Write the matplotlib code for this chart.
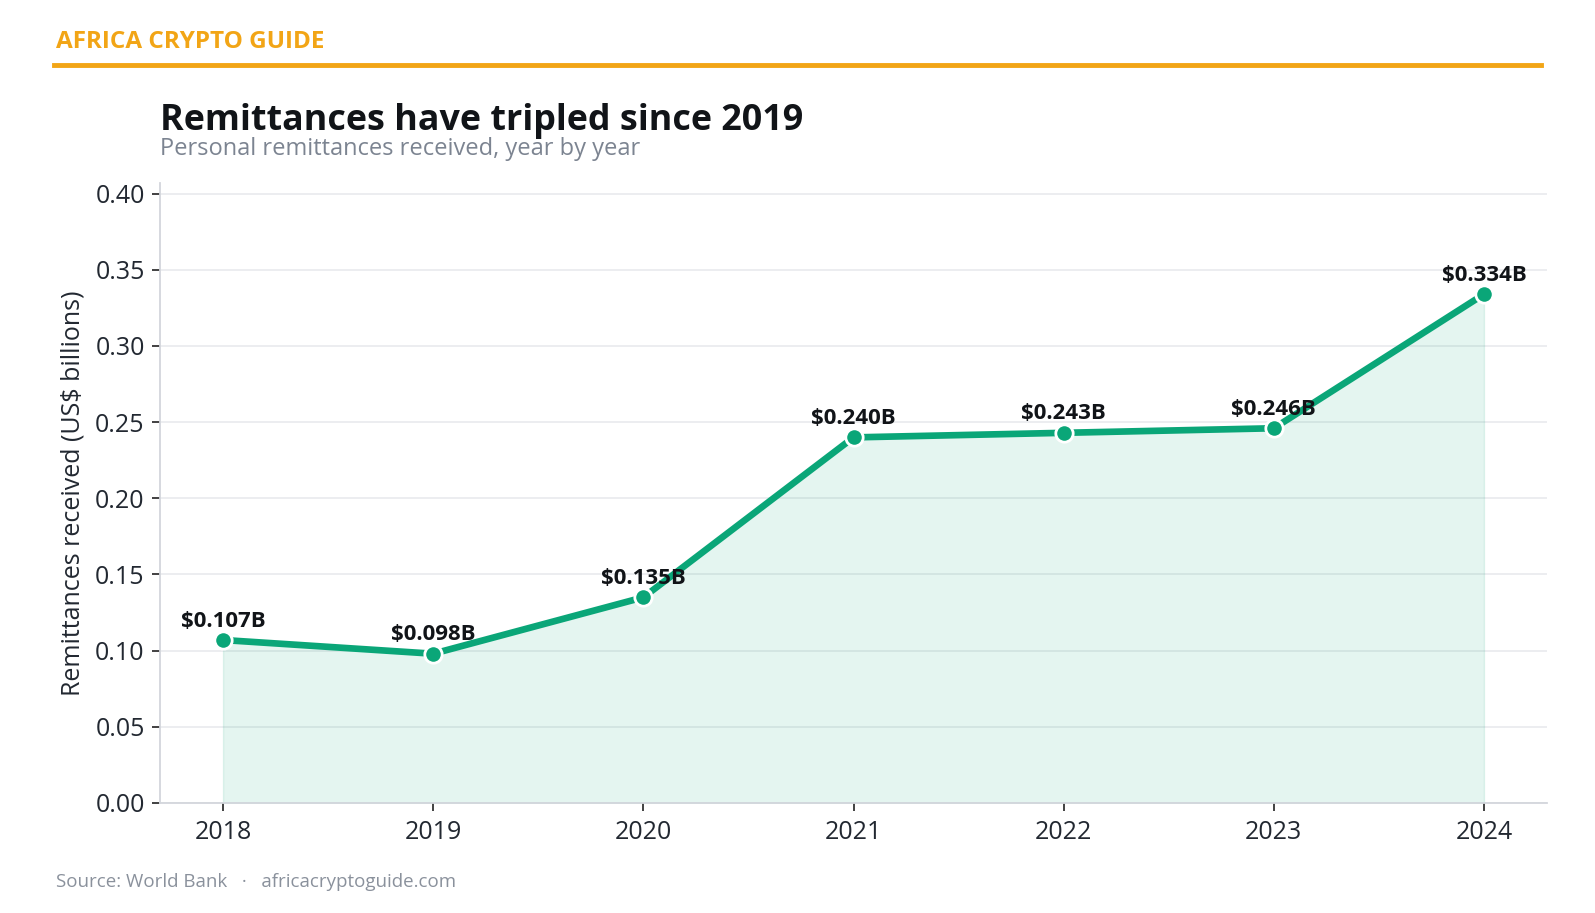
import matplotlib
matplotlib.use("Agg")
import matplotlib.pyplot as plt

years = [2018, 2019, 2020, 2021, 2022, 2023, 2024]
values = [0.107, 0.098, 0.135, 0.240, 0.243, 0.246, 0.334]
labels = ["$0.107B", "$0.098B", "$0.135B", "$0.240B", "$0.243B", "$0.246B", "$0.334B"]
yticks = [0.00, 0.05, 0.10, 0.15, 0.20, 0.25, 0.30, 0.35, 0.40]

plt.rcParams['font.family'] = ['Open Sans', 'DejaVu Sans']

GREEN = "#0aa678"
ORANGE = "#f2a516"

fig = plt.figure(figsize=(15.95, 9.13), dpi=100)
ax = fig.add_axes([160/1595, 1-803/913, (1547-160)/1595, (803-183)/913])

ax.fill_between(years, values, 0, color=GREEN, alpha=0.11, linewidth=1.0, edgecolor=(0.04, 0.65, 0.47, 0.15))
ax.plot(years, values, color=GREEN, linewidth=4.8, marker='o', markersize=12.5,
        markerfacecolor=GREEN, markeredgecolor='white', markeredgewidth=2, zorder=3,
        solid_capstyle='round')
for x, y, t in zip(years, values, labels):
    ax.annotate(t, (x, y), xytext=(0, 6), textcoords='offset points', ha='center', va='bottom',
                fontsize=16, fontweight='bold', color='#111418', zorder=4)

ax.set_xlim(2017.7, 2024.3)
ax.set_ylim(0, 0.407)
ax.set_xticks(years)
ax.set_xticklabels([str(y) for y in years])
ax.set_yticks(yticks)
ax.set_yticklabels([f"{v:.2f}" for v in yticks])
ax.grid(axis='y', color='#e9eaee', linewidth=1.2)
ax.set_axisbelow(True)
for s in ['top', 'right']:
    ax.spines[s].set_visible(False)
for s in ['left', 'bottom']:
    ax.spines[s].set_color('#d3d6dc')
    ax.spines[s].set_linewidth(1.3)
ax.tick_params(axis='both', labelsize=18, colors='#333333', labelcolor='#222831', length=6, width=1.3, pad=5)
ax.tick_params(axis='x', pad=6)
ax.set_ylabel("Remittances received (US$ billions)", fontsize=18, color='#222831', labelpad=7)

fig.text(56/1595, 1-42/913, "AFRICA CRYPTO GUIDE", color=ORANGE, fontsize=17.5, fontweight='bold', va='center', ha='left')
fig.add_artist(plt.Line2D([54/1595, 1541/1595], [1-65/913, 1-65/913], color=ORANGE, linewidth=3.5))
fig.text(160/1595, 1-121/913, "Remittances have tripled since 2019", color='#111418', fontsize=25.8, fontweight='bold', va='center', ha='left')
fig.text(160/1595, 1-149/913, "Personal remittances received, year by year", color='#7c8491', fontsize=17, va='center', ha='left')
fig.text(56/1595, 1-882/913, "Source: World Bank   ·   africacryptoguide.com", color='#8a919c', fontsize=13.5, va='center', ha='left')

fig.savefig("out.png", dpi=100, facecolor='white')
